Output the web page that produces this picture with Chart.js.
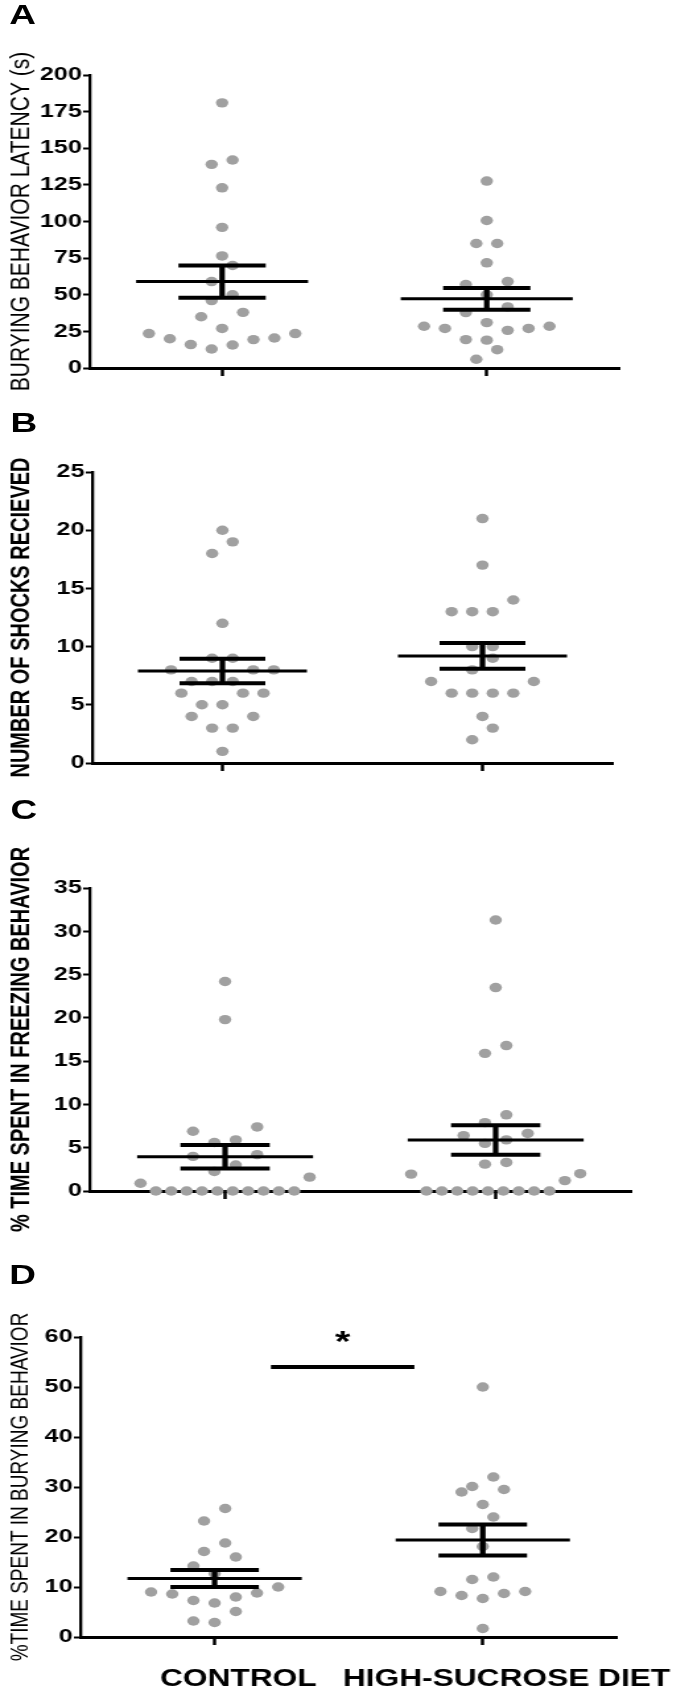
<!DOCTYPE html>
<html>
<head>
<meta charset="utf-8">
<script src="https://cdn.jsdelivr.net/npm/chart.js@4.4.0/dist/chart.umd.min.js"></script>
<style>
  html, body { margin: 0; padding: 0; background: #fff; }
  body { width: 690px; height: 1689px; overflow: hidden; position: relative; }
  /* the original figure is stretched sideways, so the whole sheet is drawn narrow and widened */
  #wrap { position: absolute; left: 0; top: 0; width: 523px; height: 1689px; transform: scaleX(1.32); transform-origin: 0 0; }
  #wrap canvas { position: absolute; left: 0; }
  .tag { position: absolute; font: bold 28px "Liberation Sans", Arial, sans-serif; line-height: 28px; color: #000; }
</style>
</head>
<body>
<div id="wrap">
  <div class="tag" style="left:7px;top:1px">A</div>
  <div class="tag" style="left:8px;top:409px">B</div>
  <div class="tag" style="left:8px;top:796px">C</div>
  <div class="tag" style="left:7px;top:1261px">D</div>
  <canvas id="chartA" width="523" height="400" style="top:0px"></canvas>
  <canvas id="chartB" width="523" height="410" style="top:380px"></canvas>
  <canvas id="chartC" width="523" height="460" style="top:780px"></canvas>
  <canvas id="chartD" width="523" height="449" style="top:1240px"></canvas>
</div>
<script>
Chart.defaults.font.family = '"Liberation Sans", Arial, Helvetica, sans-serif';
Chart.defaults.color = '#000';

const groups = ['CONTROL', 'HIGH-SUCROSE DIET'];
const catPos = [1, 3];

// A - burying behavior latency (s)
const latencyCtrl = [181, 142, 139, 123, 96, 76.5, 70, 59, 50, 46, 38, 35, 27, 23.5, 20, 16, 13, 15.7, 19.4, 20.5, 23.5];
const latencyHsd = [127.6, 100.7, 85, 85, 71.8, 59, 57, 50, 41.7, 37.8, 31, 28.5, 27, 25.7, 27, 28.5, 19.4, 19, 12.5, 6];
const latencyMean = [59, 47.2];
const latencySem = [11, 7.4];

// B - number of shocks
const shocksCtrl = [20, 19, 18, 12, 9, 9, 8, 8, 8, 7, 7, 7, 6, 6, 6, 5, 5, 4, 4, 3, 3, 1];
const shocksHsd = [21, 17, 14, 13, 13, 13, 10, 10, 9, 8, 7, 7, 6, 6, 6, 6, 4, 3, 2];
const shocksMean = [7.9, 9.2];
const shocksSem = [1.05, 1.1];

// C - % time freezing
const freezeCtrl = [24.2, 19.8, 7.4, 6.9, 5.9, 5.6, 4.2, 4.0, 3.0, 2.25, 1.6, 0.9, 0, 0, 0, 0, 0, 0, 0, 0, 0, 0];
const freezeHsd = [31.3, 23.5, 16.8, 15.9, 8.8, 7.9, 6.65, 6.4, 5.9, 5.5, 3.3, 3.1, 2.0, 1.95, 1.2, 0, 0, 0, 0, 0, 0, 0, 0, 0];
const freezeMean = [3.95, 5.9];
const freezeSem = [1.35, 1.7];

// D - % time burying
const buryCtrl = [25.7, 23.2, 18.8, 17.1, 16, 14.2, 12.7, 10, 9, 8.8, 8.6, 8, 7.3, 6.8, 5.1, 3.2, 2.9];
const buryHsd = [50, 32, 30.1, 29.5, 29, 26.5, 24, 21.7, 18.1, 12, 11.5, 9.1, 9.1, 8.7, 8.3, 7.7, 1.7];
const buryMean = [11.7, 19.4];
const burySem = [1.7, 3.1];
const burySigSpan = [1.42, 2.49];
const burySigLevel = 54;

const DOT = '#a0a0a0';
const SLOT = 0.158, SPAN = 1.25, ROW = 0.0575;
const MEAN_HALF = 0.65, CAP_HALF = 0.33;

// prism-like scatter: values close together share a row, spread out from the middle
function swarm(values, center, yMax) {
  const rowH = ROW * yMax;
  const rows = [];
  values.slice().sort((a, b) => a - b).forEach(v => {
    const row = rows[rows.length - 1];
    if (row && v - row[0] < rowH) row.push(v);
    else rows.push([v]);
  });
  const pts = [];
  rows.forEach(row => {
    const n = row.length;
    const step = n > 1 ? Math.min(SLOT, SPAN / (n - 1)) : 0;
    row.forEach((v, k) => {
      let off;
      if (n % 2) off = k === 0 ? 0 : Math.ceil(k / 2) * (k % 2 ? -1 : 1);
      else off = (Math.floor(k / 2) + 0.5) * (k % 2 ? 1 : -1);
      pts.push({ x: center + off * step, y: v });
    });
  });
  return pts;
}

const meanSem = {
  id: 'meanSem',
  afterDatasetsDraw(chart, args, opts) {
    const ctx = chart.ctx;
    const x = chart.scales.x, y = chart.scales.y;
    const hline = (x0, x1, v, w) => {
      ctx.lineWidth = w;
      ctx.beginPath();
      ctx.moveTo(x.getPixelForValue(x0), y.getPixelForValue(v));
      ctx.lineTo(x.getPixelForValue(x1), y.getPixelForValue(v));
      ctx.stroke();
    };
    ctx.save();
    ctx.strokeStyle = '#000';
    opts.means.forEach((m, i) => {
      const c = catPos[i], s = opts.sems[i];
      hline(c - MEAN_HALF, c + MEAN_HALF, m, 3);
      hline(c - CAP_HALF, c + CAP_HALF, m + s, 4);
      hline(c - CAP_HALF, c + CAP_HALF, m - s, 4);
      ctx.lineWidth = 4.2;
      ctx.beginPath();
      ctx.moveTo(x.getPixelForValue(c), y.getPixelForValue(m + s));
      ctx.lineTo(x.getPixelForValue(c), y.getPixelForValue(m - s));
      ctx.stroke();
    });
    if (opts.sigSpan) {
      const [a, b] = opts.sigSpan;
      hline(a, b, opts.sigLevel, 4);
      ctx.fillStyle = '#000';
      ctx.font = 'bold 30px "Liberation Sans", Arial, sans-serif';
      ctx.textAlign = 'center';
      ctx.textBaseline = 'alphabetic';
      ctx.fillText('*', x.getPixelForValue((a + b) / 2), y.getPixelForValue(opts.sigLevel) - 16);
    }
    ctx.restore();
  }
};

function panel(id, p) {
  return new Chart(document.getElementById(id), {
    type: 'scatter',
    data: {
      datasets: [p.ctrl, p.hsd].map((vals, i) => ({
        data: swarm(vals, catPos[i], p.max),
        backgroundColor: DOT,
        borderColor: DOT,
        borderWidth: 0,
        pointRadius: 4.7,
        pointHoverRadius: 4.7,
        clip: false
      }))
    },
    options: {
      responsive: false,
      animation: false,
      events: [],
      layout: { padding: { top: p.padTop, right: p.padRight, bottom: 0, left: 0 } },
      plugins: {
        legend: { display: false },
        tooltip: { enabled: false },
        meanSem: { means: p.means, sems: p.sems, sigSpan: p.sigSpan, sigLevel: p.sigLevel }
      },
      scales: {
        x: {
          type: 'linear',
          min: 0,
          max: 4,
          afterBuildTicks: s => { s.ticks = catPos.map(v => ({ value: v })); },
          afterFit: s => { s.height = p.xHeight; },
          grid: { drawOnChartArea: false, drawTicks: true, tickLength: 8, tickWidth: 2.5, tickColor: '#000' },
          border: { color: '#000', width: 3 },
          ticks: {
            display: !!p.labels,
            autoSkip: false,
            maxRotation: 0,
            padding: 20,
            labelOffset: 18,
            color: '#000',
            font: { size: 24, weight: 'bold' },
            callback: (v, i) => groups[i]
          }
        },
        y: {
          min: 0,
          max: p.max,
          afterFit: s => { s.width = p.yWidth; },
          grid: { drawOnChartArea: false, tickLength: 5, tickWidth: 2, tickColor: '#000' },
          border: { color: '#000', width: 2.3 },
          ticks: { stepSize: p.step, padding: 1, color: '#000', font: { size: 19, weight: 'bold' } },
          title: {
            display: true,
            text: p.title,
            color: '#000',
            padding: { top: 4, bottom: 0 },
            font: { size: p.titleSize, weight: p.titleWeight, lineHeight: 1.2 }
          }
        }
      }
    },
    plugins: [meanSem]
  });
}

panel('chartA', {
  ctrl: latencyCtrl, hsd: latencyHsd, means: latencyMean, sems: latencySem,
  max: 200, step: 25, title: 'BURYING BEHAVIOR LATENCY (s)', titleSize: 21, titleWeight: 'normal',
  padTop: 75, padRight: 54, yWidth: 68, xHeight: 32
});
panel('chartB', {
  ctrl: shocksCtrl, hsd: shocksHsd, means: shocksMean, sems: shocksSem,
  max: 25, step: 5, title: 'NUMBER OF SHOCKS RECIEVED', titleSize: 20, titleWeight: 'bold',
  padTop: 92, padRight: 59, yWidth: 70, xHeight: 27
});
panel('chartC', {
  ctrl: freezeCtrl, hsd: freezeHsd, means: freezeMean, sems: freezeSem,
  max: 35, step: 5, title: '% TIME SPENT IN FREEZING BEHAVIOR', titleSize: 20, titleWeight: 'bold',
  padTop: 108, padRight: 45, yWidth: 68, xHeight: 49
});
panel('chartD', {
  ctrl: buryCtrl, hsd: buryHsd, means: buryMean, sems: burySem,
  sigSpan: burySigSpan, sigLevel: burySigLevel,
  max: 60, step: 10, title: '%TIME SPENT IN BURYING BEHAVIOR', titleSize: 19, titleWeight: 'normal',
  padTop: 97, padRight: 53, yWidth: 61, xHeight: 52, labels: true
});
</script>
</body>
</html>
